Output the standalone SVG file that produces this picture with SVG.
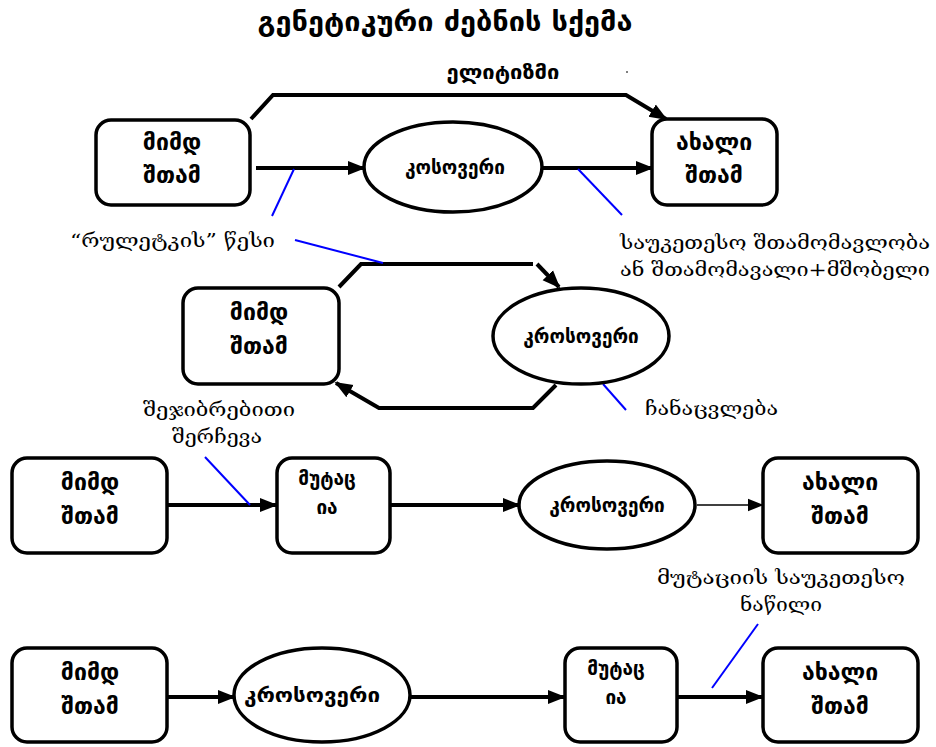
<svg xmlns="http://www.w3.org/2000/svg" width="936" height="747" viewBox="0 0 936 747">
<defs>
<marker id="ah" viewBox="0 0 10 10" refX="9" refY="5" markerWidth="6" markerHeight="6" markerUnits="userSpaceOnUse" orient="auto"><path d="M0,0 L10,5 L0,10 z" fill="#000"/></marker>
<marker id="ahb" viewBox="0 0 10 10" refX="9" refY="5" markerWidth="18" markerHeight="18" markerUnits="userSpaceOnUse" orient="auto"><path d="M0,1 L10,5 L0,9 z" fill="#000"/></marker>
<marker id="ahs" viewBox="0 0 10 10" refX="9" refY="5" markerWidth="16" markerHeight="16" markerUnits="userSpaceOnUse" orient="auto"><path d="M0,1 L10,5 L0,9 z" fill="#000"/></marker>
</defs>
<style>
.box{fill:#fff;stroke:#000;stroke-width:3.5}
.ell{fill:#fff;stroke:#000;stroke-width:3.5}
.c{fill:none;stroke:#000;stroke-width:4}
.ct{fill:none;stroke:#000;stroke-width:1.5}
.bl{fill:none;stroke:#0000ff;stroke-width:2}
.n{font-family:"DejaVu Sans","Noto Sans",sans-serif;font-weight:bold;font-size:23px;text-anchor:middle;fill:#000}
.e{font-family:"DejaVu Sans","Noto Sans",sans-serif;font-weight:bold;font-size:19px;text-anchor:middle;fill:#000}
.a{font-family:"DejaVu Serif","DejaVu Sans",serif;font-size:19px;fill:#000}
.t{font-family:"DejaVu Sans","Noto Sans",sans-serif;font-weight:bold;font-size:26px;text-anchor:middle;fill:#000}
</style>
<rect width="936" height="747" fill="#fff"/>
<text class="t" x="445" y="31" textLength="375" lengthAdjust="spacingAndGlyphs">გენეტიკური ძებნის სქემა</text>

<g id="connectors">
<polyline class="c" points="251,119 273,95 626,95 666,119" marker-end="url(#ahb)"/>
<line class="c" x1="256" y1="168" x2="364" y2="168" marker-end="url(#ahb)"/>
<line class="c" x1="543" y1="168" x2="652" y2="168" marker-end="url(#ahb)"/>
<polyline class="c" points="339,287 361,264 533,264"/>
<line class="c" x1="537" y1="264" x2="559" y2="287" marker-end="url(#ahb)"/>
<polyline class="c" points="556,385 533,408 379,408 336,383" marker-end="url(#ahb)"/>
<line class="c" x1="167" y1="505" x2="276" y2="505" marker-end="url(#ahb)"/>
<line class="c" x1="390" y1="505" x2="519" y2="505" marker-end="url(#ahb)"/>
<line class="ct" x1="697" y1="505" x2="762" y2="505" marker-end="url(#ahs)"/>
<line class="c" x1="167" y1="697" x2="234" y2="697" marker-end="url(#ahb)"/>
<line class="c" x1="410" y1="697" x2="564" y2="697" marker-end="url(#ahb)"/>
<line class="c" x1="677" y1="697" x2="762" y2="697" marker-end="url(#ahb)"/>
</g>

<g id="annotations">
<line class="bl" x1="294" y1="169" x2="272" y2="216"/>
<line class="bl" x1="578" y1="169" x2="622" y2="215"/>
<line class="bl" x1="295" y1="240" x2="383" y2="263"/>
<line class="bl" x1="603" y1="384" x2="626" y2="410"/>
<line class="bl" x1="205" y1="457" x2="250" y2="505"/>
<line class="bl" x1="758" y1="624" x2="712" y2="688"/>
<text class="a" x="70" y="247" textLength="205" lengthAdjust="spacingAndGlyphs">“რულეტკის” წესი</text>
<text class="a" x="620" y="249" textLength="310" lengthAdjust="spacingAndGlyphs">საუკეთესო შთამომავლობა</text>
<text class="a" x="620" y="276" textLength="310" lengthAdjust="spacingAndGlyphs">ან შთამომავალი+მშობელი</text>
<text class="a" x="645" y="415" textLength="133" lengthAdjust="spacingAndGlyphs">ჩანაცვლება</text>
<text class="a" x="143" y="416" textLength="152" lengthAdjust="spacingAndGlyphs">შეჯიბრებითი</text>
<text class="a" x="172" y="443" textLength="90" lengthAdjust="spacingAndGlyphs">შერჩევა</text>
<text class="a" x="657" y="584" textLength="248" lengthAdjust="spacingAndGlyphs">მუტაციის საუკეთესო</text>
<text class="a" x="740" y="611" textLength="82" lengthAdjust="spacingAndGlyphs">ნაწილი</text>
<text class="e" x="503" y="79" textLength="113" lengthAdjust="spacingAndGlyphs">ელიტიზმი</text>
<circle cx="627" cy="72" r="1" fill="#555"/>
</g>

<g id="n1a"><rect class="box" x="96" y="120" width="154" height="85" rx="15"/><text class="n" x="172" y="150">მიმდ</text><text class="n" x="172" y="183">შთამ</text></g>
<g id="n1b"><ellipse class="ell" cx="453" cy="167" rx="89" ry="45"/><text class="e" x="455" y="174">კოსოვერი</text></g>
<g id="n1c"><rect class="box" x="652" y="119" width="125" height="86" rx="15"/><text class="n" x="714" y="150">ახალი</text><text class="n" x="714" y="183">შთამ</text></g>

<g id="n2a"><rect class="box" x="183" y="288" width="156" height="96" rx="15"/><text class="n" x="259" y="320">მიმდ</text><text class="n" x="259" y="354">შთამ</text></g>
<g id="n2b"><ellipse class="ell" cx="581" cy="336" rx="88" ry="48"/><text class="e" x="581" y="343">კროსოვერი</text></g>

<g id="n3a"><rect class="box" x="12" y="458" width="155" height="95" rx="15"/><text class="n" x="90" y="490">მიმდ</text><text class="n" x="90" y="524">შთამ</text></g>
<g id="n3b"><rect class="box" x="277" y="458" width="113" height="95" rx="15"/><text class="n" x="327" y="485" style="font-size:19px">მუტაც</text><text class="n" x="327" y="514" style="font-size:19px">ია</text></g>
<g id="n3c"><ellipse class="ell" cx="607" cy="505" rx="88" ry="44"/><text class="e" x="607" y="512">კროსოვერი</text></g>
<g id="n3d"><rect class="box" x="763" y="458" width="155" height="95" rx="15"/><text class="n" x="840" y="490">ახალი</text><text class="n" x="840" y="524">შთამ</text></g>

<g id="n4a"><rect class="box" x="12" y="648" width="155" height="94" rx="15"/><text class="n" x="90" y="680">მიმდ</text><text class="n" x="90" y="714">შთამ</text></g>
<g id="n4b"><ellipse class="ell" cx="322" cy="695" rx="88" ry="47"/><text class="e" x="312" y="702" textLength="136" lengthAdjust="spacingAndGlyphs">კროსოვერი</text></g>
<g id="n4c"><rect class="box" x="565" y="648" width="112" height="94" rx="15"/><text class="n" x="616" y="675" style="font-size:19px">მუტაც</text><text class="n" x="616" y="704" style="font-size:19px">ია</text></g>
<g id="n4d"><rect class="box" x="763" y="648" width="155" height="94" rx="15"/><text class="n" x="840" y="680">ახალი</text><text class="n" x="840" y="714">შთამ</text></g>
</svg>
